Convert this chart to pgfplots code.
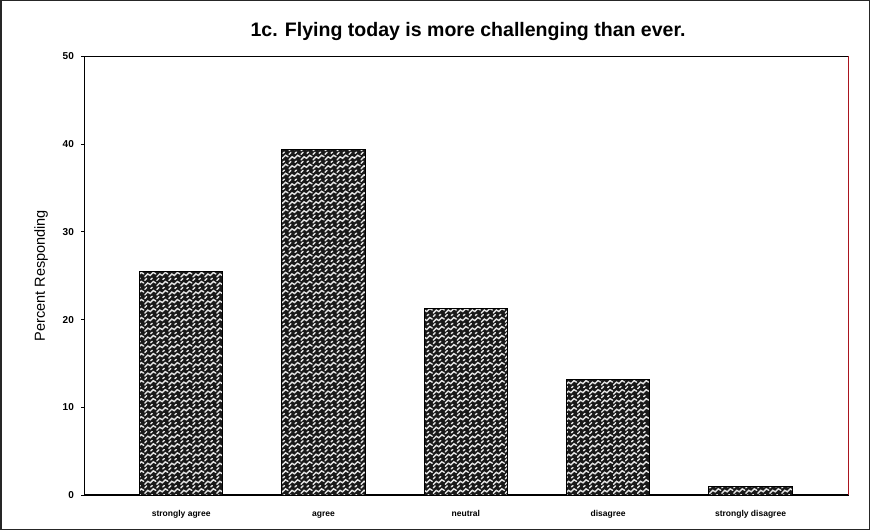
\documentclass[border=0pt]{standalone}
\usepackage{pgfplots}
\pgfplotsset{compat=1.18}
\usepackage{fontspec}
\setmainfont{Liberation Sans}
\usetikzlibrary{patterns}
\pgfdeclarepatternformonly{zigzag}{\pgfqpoint{-1pt}{-1pt}}{\pgfqpoint{13pt}{10pt}}{\pgfqpoint{12pt}{9pt}}{
  \pgfsetlinewidth{1.4pt}
  \pgfsetroundcap
  \pgfpathmoveto{\pgfqpoint{0.5pt}{1pt}}
  \pgfpathlineto{\pgfqpoint{3.5pt}{4pt}}
  \pgfpathlineto{\pgfqpoint{6pt}{2.5pt}}
  \pgfpathlineto{\pgfqpoint{9pt}{5.5pt}}
  \pgfpathlineto{\pgfqpoint{11.5pt}{4pt}}
  \pgfusepath{stroke}
  \pgfpathmoveto{\pgfqpoint{0.5pt}{6.5pt}}
  \pgfpathlineto{\pgfqpoint{2.5pt}{8.5pt}}
  \pgfusepath{stroke}
  \pgfpathmoveto{\pgfqpoint{6.5pt}{7.5pt}}
  \pgfpathlineto{\pgfqpoint{8pt}{8.7pt}}
  \pgfusepath{stroke}
}
\definecolor{axred}{RGB}{170,20,30}
\begin{document}
\begin{tikzpicture}
\draw[line width=1.5pt, black!85] (-83.5pt,-34.5pt) rectangle (783.5pt,493.5pt);
\begin{axis}[
  at={(0pt,0pt)}, anchor=south west,
  scale only axis, width=763pt, height=438pt,
  xmin=-0.68, xmax=4.69, ymin=0, ymax=50,
  axis x line*=bottom, axis y line*=left,
  axis line style={line width=1.3pt, black},
  ytick={0,10,20,30,40,50},
  xtick={0,1,2,3,4},
  xticklabels={strongly agree, agree, neutral, disagree, strongly disagree},
  x tick style={draw=none},
  y tick style={line width=1pt, black},
  tick align=outside, major tick length=3pt,
  /pgf/number format/assume math mode=true,
  y tick label style={font=\bfseries\fontsize{10}{12}\selectfont, xshift=-4pt},
  x tick label style={font=\bfseries\fontsize{8.5}{10}\selectfont, yshift=-7pt, text height=1.5ex, text depth=0.3ex},
  ylabel={Percent Responding},
  ylabel style={font=\fontsize{14.5}{16}\selectfont, yshift=8pt},
  clip=false,
]
\addplot[ybar, bar width=83pt, draw=black, line width=1pt, fill=black!90,
  postaction={pattern=zigzag, pattern color=black!10}]
  coordinates {(0,25.5) (1,39.4) (2,21.3) (3,13.2) (4,1.0)};
\draw[line width=1.3pt, black] (rel axis cs:0,1) -- (rel axis cs:1,1);
\draw[line width=1.3pt, axred] (rel axis cs:1,1) -- (rel axis cs:1,0);
\end{axis}
\node[font=\bfseries\fontsize{19.5}{22}\selectfont] at (383pt,463pt) {1c. Flying today is more challenging than ever.};
\end{tikzpicture}
\end{document}
